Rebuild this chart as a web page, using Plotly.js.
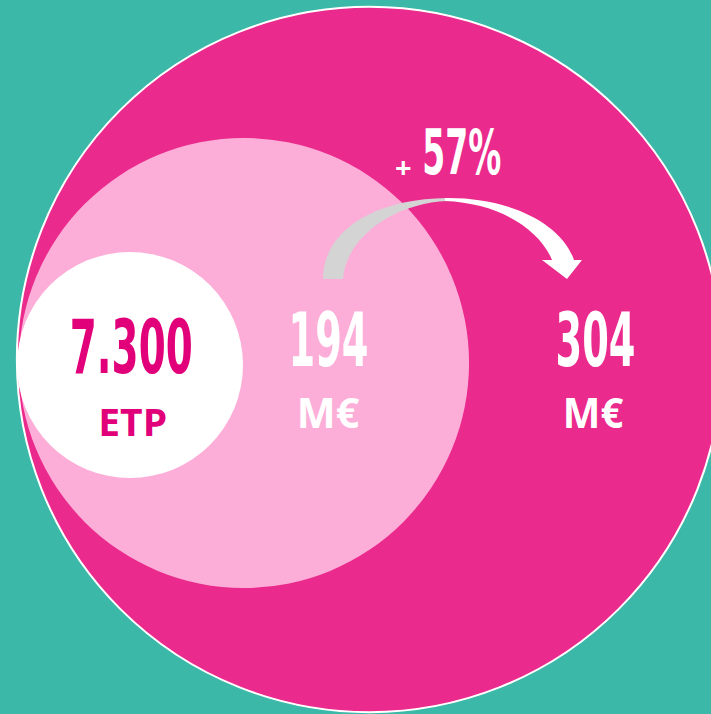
<!DOCTYPE html>
<html>
<head>
<meta charset="utf-8">
<script src="https://cdn.plot.ly/plotly-3.0.1.min.js"></script>
<style>html,body{margin:0;padding:0;background:#3cb8a8;}</style>
</head>
<body>
<div id="chart" style="width:711px;height:714px;"></div>
<script>
// Data
const amounts = [194, 304];            // M€ before / after
const amountLabels = ["194", "304"];
const amountUnit = "M€";
const staffLabel = "7.300";
const staffUnit = "ETP";
const growthLabel = "57%";
const growthSign = "+";

const teal = "#3cb8a8", magenta = "#ea2a8c", lightPink = "#fdaed8", deep = "#e2007a";
const k = 1.16; // radius per M€ (px in data units)
const cBig = [369.5, 359.5], cSmall = [244, 363], cStaff = [130, 365], rStaff = 113;
const rBig = amounts[1] * k, rSmall = amounts[0] * k;

const condensed = "'DejaVu Sans Condensed', 'Liberation Sans Narrow', sans-serif";
const regular = "'Open Sans', 'Liberation Sans', sans-serif";

function circ(c, r, fill, line) {
  return {type: "circle", xref: "x", yref: "y", x0: c[0]-r, x1: c[0]+r, y0: c[1]-r, y1: c[1]+r,
    fillcolor: fill, line: line || {width: 0}, layer: "below"};
}

const shapes = [
  circ(cBig, rBig, magenta, {color: "white", width: 2}),
  circ(cSmall, rSmall, lightPink),
  circ(cStaff, rStaff, "white"),
  {type: "path", xref: "x", yref: "y", layer: "below", fillcolor: "#d4d4d4", line: {width: 0},
   path: "M 323 279 C 323 232 372 199 447 198 L 447 201 C 396 203 346 236 343 279 Z"},
  {type: "path", xref: "x", yref: "y", layer: "below", fillcolor: "white", line: {width: 0},
   path: "M 445 198 C 510 197 562 224 574 260 L 582 260 L 567 279 L 542 260 L 552 260 C 540 230 500 203 445 201 Z"}
];

// target text widths (px) for horizontal fitting of condensed display type
const fitWidths = [123, 69, 80, 63, 80, 61, 0, 79];

const annotations = [
  {x: cStaff[0]+1, y: 347, text: staffLabel, font: {family: condensed, size: 74, color: deep, weight: 700}},
  {x: cStaff[0]+2, y: 421, text: staffUnit, font: {family: regular, size: 37, color: deep, weight: 700}},
  {x: 328, y: 340, text: amountLabels[0], font: {family: condensed, size: 74, color: "white", weight: 700}},
  {x: 328, y: 412, text: amountUnit, font: {family: regular, size: 41, color: "white", weight: 700}},
  {x: 595, y: 340, text: amountLabels[1], font: {family: condensed, size: 74, color: "white", weight: 700}},
  {x: 593, y: 412, text: amountUnit, font: {family: regular, size: 41, color: "white", weight: 700}},
  {x: 403.5, y: 166, text: growthSign, font: {family: regular, size: 29, color: "white", weight: 700}},
  {x: 462, y: 152, text: growthLabel, font: {family: condensed, size: 62, color: "white", weight: 700}}
].map(a => Object.assign({xref: "x", yref: "y", showarrow: false, xanchor: "center", yanchor: "middle"}, a));

const layout = {
  width: 711, height: 714,
  margin: {l: 0, r: 0, t: 0, b: 0},
  paper_bgcolor: teal, plot_bgcolor: teal,
  xaxis: {range: [0, 711], visible: false, fixedrange: true},
  yaxis: {range: [714, 0], visible: false, fixedrange: true},
  showlegend: false,
  shapes: shapes,
  annotations: annotations
};

Plotly.newPlot("chart", [{x: [0], y: [0], mode: "markers", marker: {opacity: 0}, hoverinfo: "skip"}], layout, {displayModeBar: false, staticPlot: true})
.then(function () {
  document.querySelectorAll("#chart g.annotation").forEach(function (g) {
    const i = +g.getAttribute("data-index");
    const w = fitWidths[i];
    if (!w) return;
    const t = g.querySelector("text.annotation-text");
    if (!t) return;
    const bb = t.getBBox();
    if (!bb.width) return;
    const s = w / bb.width;
    const cx = bb.x + bb.width / 2;
    const prev = t.getAttribute("transform") || "";
    t.setAttribute("transform", prev + " translate(" + cx + ",0) scale(" + s + ",1) translate(" + (-cx) + ",0)");
  });
});
</script>
</body>
</html>
